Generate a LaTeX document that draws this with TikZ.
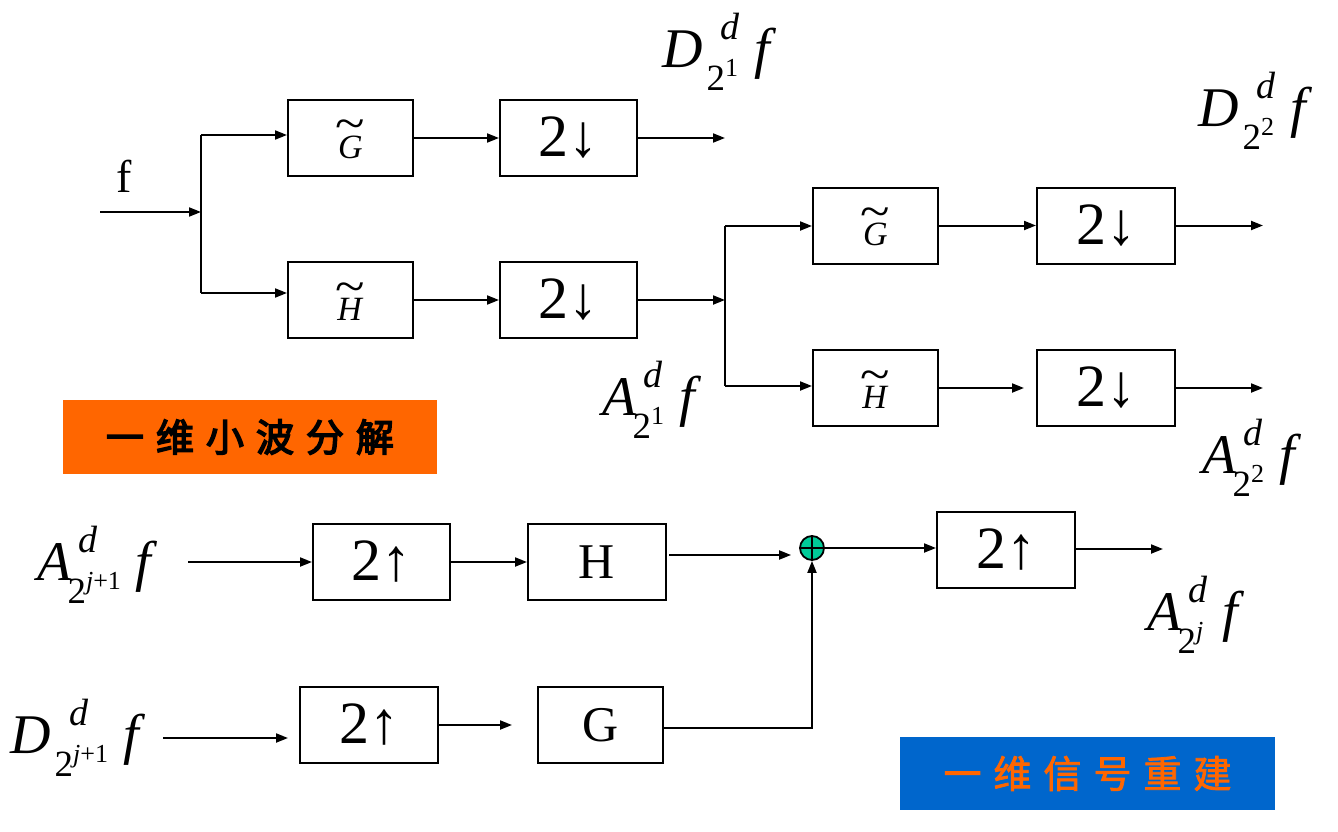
\documentclass[tikz,border=0pt]{standalone}
\usepackage{fontspec}
\setmainfont{Liberation Serif}
\newfontfamily\cjkb{Noto Sans CJK SC}[FakeBold=4]
\newfontfamily\cjkm{Noto Sans CJK SC}[FakeBold=2]
\usetikzlibrary{arrows.meta}
\definecolor{orng}{HTML}{FF6600}
\definecolor{blu}{HTML}{0066CC}
\definecolor{grn}{HTML}{00CC99}
\newsavebox\supbx
\newsavebox\subbx
% #1 letter, #2 kern after letter, #3 sup offset from sub start, #4 sub content
\newcommand{\wsym}[4]{\textit{#1}\kern#2pt%
  \sbox\supbx{\kern#3pt\raisebox{28pt}{\fontsize{38}{38}\selectfont\textit{d}}}%
  \sbox\subbx{\raisebox{-23pt}{\fontsize{37}{37}\selectfont #4}}%
  \ifdim\wd\supbx>\wd\subbx\rlap{\usebox\subbx}\usebox\supbx\else\rlap{\usebox\supbx}\usebox\subbx\fi
  \kern15pt\textit{f}}
\newcommand{\ssc}[1]{\raisebox{14pt}{\fontsize{26}{26}\selectfont #1}}
\newcommand{\tl}[1]{\raisebox{0pt}[40pt][0pt]{\ooalign{\textit{#1}\cr\hidewidth\raisebox{18pt}{\scalebox{1.6}[1.4]{\char"7E}}\hidewidth\cr}}}
\begin{document}
\begin{tikzpicture}[x=1pt,y=-1pt,
  blk/.style={draw, line width=2pt, inner sep=0pt, minimum height=76pt},
  big/.style={font=\fontsize{60}{60}\selectfont},
  mid/.style={font=\fontsize{50}{50}\selectfont},
  sml/.style={font=\fontsize{34}{34}\selectfont},
  lab/.style={anchor=base west, inner sep=0pt, font=\fontsize{56}{56}\selectfont},
  arr/.style={line width=2pt, -{Triangle[length=12pt,width=9pt]}},
  ln/.style={line width=2pt}]
\useasboundingbox (0,0) rectangle (1338,832);

% ---------- decomposition ----------
\node[blk,sml,minimum width=125pt] (g1) at (350.5,138) {\tl{G}};
\node[blk,big,minimum width=137pt] (d1) at (568.5,138) {2↓};
\node[blk,sml,minimum width=125pt] (h1) at (350.5,300) {\tl{H}};
\node[blk,big,minimum width=137pt] (d2) at (568.5,300) {2↓};
\node[blk,sml,minimum width=125pt] (g2) at (875.5,225.5) {\tl{G}};
\node[blk,big,minimum width=138pt] (d3) at (1106,225.5) {2↓};
\node[blk,sml,minimum width=125pt] (h2) at (875.5,388) {\tl{H}};
\node[blk,big,minimum width=138pt] (d4) at (1106,388) {2↓};

\node[anchor=base west, inner sep=0pt, font=\fontsize{46}{46}\selectfont] (fl) at (116,192) {f};
\node[lab] (D1) at (662,68) {\wsym{D}{4}{14}{2\ssc{1}}};
\node[lab] (D2) at (1198,127) {\wsym{D}{4}{14}{2\ssc{2}}};
\node[lab] (A1) at (602,415) {\wsym{A}{-4}{11}{2\ssc{1}}};
\node[lab] (A2) at (1202,473) {\wsym{A}{-4}{11}{2\ssc{2}}};

\coordinate (fin) at (100,212);
\coordinate (s1) at (201,212);
\coordinate (s1t) at (201,135);
\coordinate (s1b) at (201,293);
\draw[arr] (fin) -- (s1);
\draw[ln] (s1t) -- (s1b);
\draw[arr] (s1t) -- (g1.west |- s1t);
\draw[arr] (s1b) -- (h1.west |- s1b);
\draw[arr] (g1.east) -- (d1.west);
\coordinate (o1) at (725,138);
\draw[arr] (d1.east) -- (o1);
\draw[arr] (h1.east) -- (d2.west);
\coordinate (s2) at (725,300);
\coordinate (s2t) at (725,226);
\coordinate (s2b) at (725,386);
\draw[arr] (d2.east) -- (s2);
\draw[ln] (s2t) -- (s2b);
\draw[arr] (s2t) -- (g2.west |- s2t);
\draw[arr] (s2b) -- (h2.west |- s2b);
\draw[arr] (g2.east) -- (d3.west);
\draw[arr, shorten >=12pt] (h2.east) -- (d4.west);
\coordinate (o3) at (1263,225.5);
\coordinate (o4) at (1263,388);
\draw[arr] (d3.east) -- (o3);
\draw[arr] (d4.east) -- (o4);

\node[fill=orng, minimum width=374pt, minimum height=74pt, inner sep=0pt,
  font=\fontsize{38}{38}\selectfont\cjkb] (t1) at (250,437)
  {一\kern12pt 维\kern12pt 小\kern12pt 波\kern12pt 分\kern12pt 解};

% ---------- reconstruction ----------
\node[blk,big,minimum width=137pt] (u1) at (381.5,562) {2↑};
\node[blk,mid,minimum width=138pt] (hb) at (597,562) {H};
\node[blk,big,minimum width=138pt] (u3) at (1006,550) {2↑};
\node[blk,big,minimum width=138pt] (u2) at (369,725) {2↑};
\node[blk,mid,minimum width=125pt] (gb) at (600.5,725) {G};
\node[circle, draw, line width=1.8pt, fill=grn, minimum size=24pt, inner sep=0pt] (sum) at (812,548) {};
\draw[line width=1.8pt] (sum.north) -- (sum.south) (sum.west) -- (sum.east);

\node[lab] (A3) at (37,580) {\wsym{A}{-4}{11}{2\ssc{\textit{j}+1}}};
\node[lab] (A4) at (1147,630) {\wsym{A}{-4}{11}{2\ssc{\textit{j}}}};
\node[lab] (D3) at (10,753) {\wsym{D}{4}{15}{2\ssc{\textit{j}+1}}};

\coordinate (ai) at (188,562);
\draw[arr] (ai) -- (u1.west);
\draw[arr] (u1.east) -- (hb.west);
\draw[arr, shorten >=8pt] ([xshift=2pt,yshift=7pt]hb.east) -- ([yshift=-7pt]sum.west);
\draw[arr] (sum.east) -- (u3.west |- sum.east);
\coordinate (o5) at (1163,549);
\draw[arr] (u3.east |- o5) -- (o5);
\coordinate (di) at (163,738);
\coordinate (de) at (288,738);
\draw[arr] (di) -- (de);
\draw[arr, shorten >=25pt] (u2.east) -- (gb.west);
\draw[arr] ([yshift=-3pt]gb.east) -| (sum.south);

\node[fill=blu, minimum width=375pt, minimum height=73pt, inner sep=0pt,
  text=orng, font=\fontsize{38}{38}\selectfont\cjkm] (t2) at (1087.5,773.5)
  {一\kern12pt 维\kern12pt 信\kern12pt 号\kern12pt 重\kern12pt 建};
\end{tikzpicture}
\end{document}
